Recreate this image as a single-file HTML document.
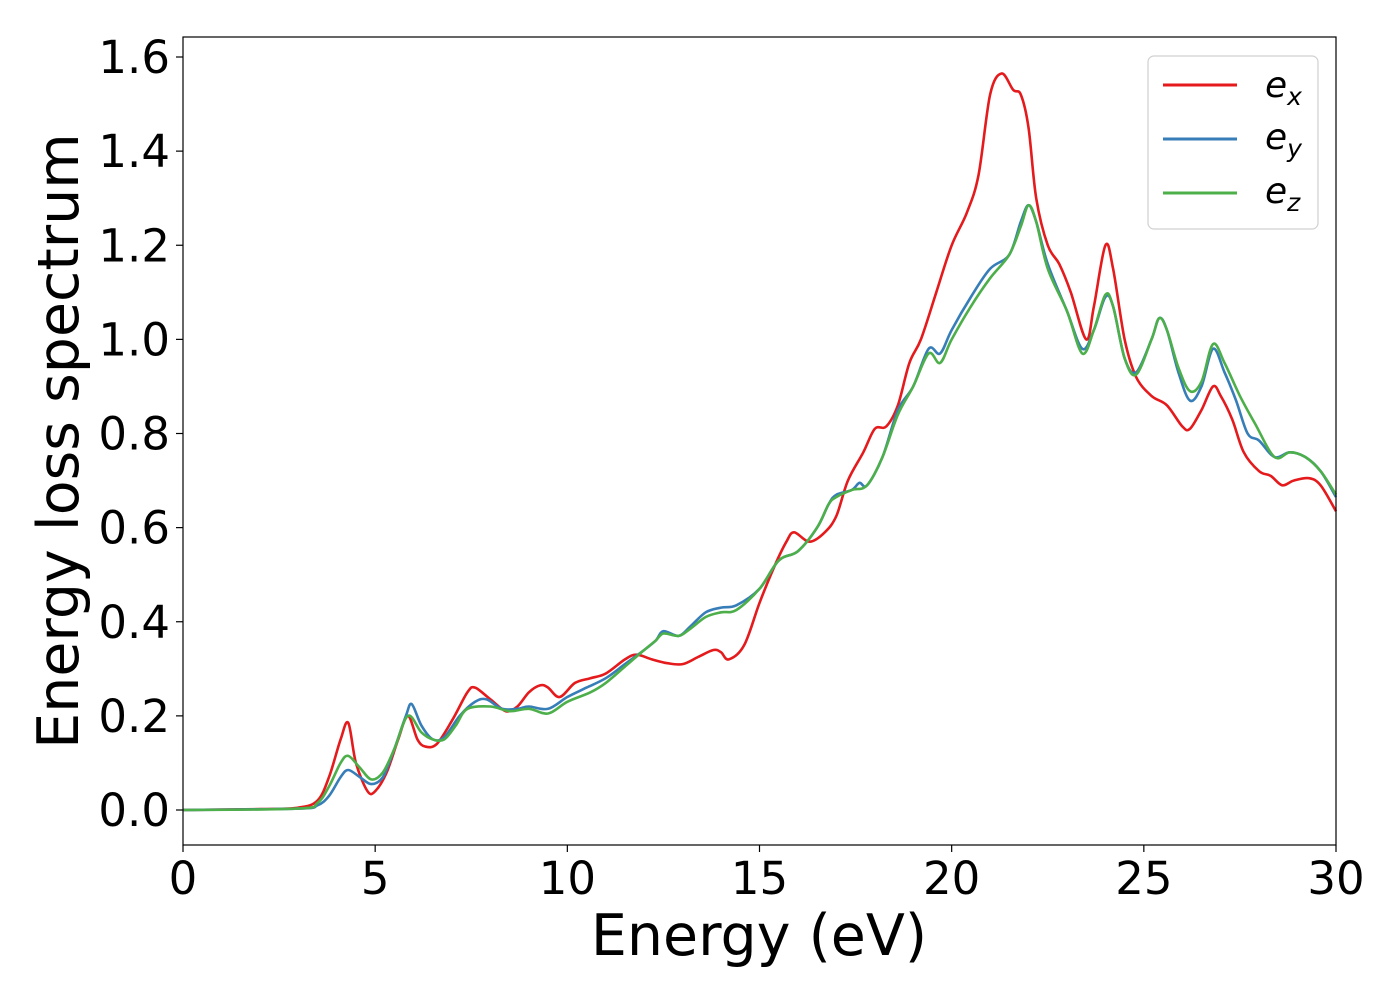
<!DOCTYPE html>
<html><head><meta charset="utf-8"><style>
body{margin:0;background:#fff}
text{font-family:"DejaVu Sans","Liberation Sans",sans-serif;fill:#000}
</style></head><body>
<svg id="chart" width="1400" height="1000" viewBox="0 0 1400 1000" xmlns="http://www.w3.org/2000/svg">
<rect width="1400" height="1000" fill="#fff"/>
<g id="series"></g>
<rect x="183" y="37" width="1153" height="808" fill="none" stroke="#000" stroke-width="1.2"/>
<g id="xticks"></g>
<g id="yticks"></g>
<text x="759" y="955" font-size="57" text-anchor="middle">Energy (eV)</text>
<text transform="translate(78,441) rotate(-90)" font-size="57" text-anchor="middle">Energy loss spectrum</text>
<g>
<rect x="1148" y="56" width="170" height="173" rx="6" fill="#fff" stroke="#ccc" stroke-width="1.2" opacity="0.9"/>
<line x1="1163" y1="85" x2="1237" y2="85" stroke="#e41a1c" stroke-width="3"/>
<text x="1265" y="97" font-size="36" font-style="italic">e<tspan font-size="25" dy="8">x</tspan></text>
<line x1="1163" y1="139" x2="1237" y2="139" stroke="#377eb8" stroke-width="3"/>
<text x="1265" y="149" font-size="36" font-style="italic">e<tspan font-size="25" dy="8">y</tspan></text>
<line x1="1163" y1="193" x2="1237" y2="193" stroke="#4daf4a" stroke-width="3"/>
<text x="1265" y="203" font-size="36" font-style="italic">e<tspan font-size="25" dy="8">z</tspan></text>
</g>
</svg>
<script>
const exX=[0,2,3,3.5,3.8,4.1,4.3,4.5,4.8,5.0,5.3,5.6,5.85,6.1,6.3,6.6,7.0,7.4,7.6,8.0,8.4,8.7,9.0,9.3,9.5,9.8,10.2,10.6,11,11.5,11.8,12.2,12.6,13,13.4,13.8,14.0,14.2,14.6,15,15.4,15.7,15.9,16.3,16.7,17,17.3,17.7,18,18.3,18.6,18.9,19.2,19.6,20,20.4,20.7,21,21.3,21.6,21.8,22,22.2,22.5,22.8,23.1,23.5,23.7,24,24.2,24.5,24.8,25.2,25.6,26,26.2,26.5,26.8,27.0,27.3,27.6,28,28.3,28.6,28.9,29.3,29.6,30];
const exY=[0,0.002,0.005,0.02,0.07,0.15,0.185,0.1,0.04,0.04,0.08,0.15,0.2,0.15,0.135,0.14,0.19,0.25,0.26,0.235,0.21,0.22,0.25,0.265,0.26,0.24,0.27,0.28,0.29,0.32,0.33,0.32,0.312,0.31,0.325,0.34,0.335,0.32,0.35,0.44,0.52,0.57,0.59,0.57,0.59,0.625,0.7,0.76,0.81,0.815,0.86,0.95,1.0,1.1,1.2,1.27,1.35,1.52,1.565,1.53,1.52,1.45,1.3,1.2,1.16,1.1,1.0,1.07,1.2,1.15,1.0,0.92,0.88,0.86,0.815,0.81,0.85,0.9,0.88,0.83,0.76,0.72,0.71,0.69,0.7,0.705,0.69,0.635];
const eyX=[0,3,3.5,3.8,4.1,4.3,4.6,4.9,5.2,5.5,5.8,5.95,6.2,6.5,6.8,7.2,7.6,7.9,8.3,8.7,9.0,9.5,10,10.5,11,11.5,12,12.3,12.5,12.9,13.2,13.6,14,14.4,15,15.5,16,16.5,16.8,17,17.4,17.6,17.8,18.2,18.6,19,19.4,19.7,20,20.5,21,21.5,21.8,22,22.2,22.5,23,23.4,23.7,24,24.2,24.5,24.8,25.2,25.4,25.6,25.9,26.2,26.5,26.8,27.1,27.4,27.7,28,28.4,28.8,29.2,29.6,30];
const eyY=[0,0.003,0.01,0.03,0.07,0.085,0.07,0.055,0.07,0.13,0.2,0.225,0.18,0.15,0.155,0.2,0.23,0.235,0.215,0.215,0.22,0.215,0.24,0.26,0.28,0.31,0.34,0.36,0.38,0.37,0.39,0.42,0.43,0.435,0.47,0.53,0.55,0.6,0.65,0.67,0.68,0.695,0.69,0.75,0.85,0.9,0.98,0.97,1.02,1.09,1.15,1.18,1.25,1.285,1.25,1.16,1.06,0.98,1.02,1.09,1.07,0.96,0.93,1.0,1.045,1.02,0.93,0.87,0.9,0.98,0.93,0.87,0.8,0.785,0.75,0.76,0.75,0.72,0.665];
const ezX=[0,3,3.5,3.8,4.1,4.3,4.6,4.9,5.2,5.5,5.85,6.2,6.5,6.8,7.1,7.4,8.0,8.5,9.0,9.5,10,10.6,11,11.5,12,12.3,12.5,12.9,13.2,13.6,14,14.4,15,15.5,16,16.5,16.8,17,17.4,17.8,18.2,18.6,19,19.4,19.7,20,20.5,21,21.5,21.8,22,22.2,22.5,23,23.4,23.7,24,24.2,24.5,24.8,25.2,25.4,25.6,25.9,26.2,26.5,26.8,27.1,27.5,27.9,28.4,28.8,29.2,29.6,30];
const ezY=[0,0.003,0.015,0.05,0.1,0.115,0.09,0.065,0.08,0.13,0.2,0.165,0.15,0.15,0.18,0.215,0.22,0.21,0.215,0.205,0.23,0.25,0.27,0.305,0.34,0.36,0.375,0.37,0.385,0.41,0.42,0.425,0.47,0.53,0.55,0.6,0.65,0.665,0.68,0.69,0.75,0.84,0.9,0.97,0.95,1.0,1.07,1.13,1.18,1.24,1.285,1.25,1.15,1.06,0.97,1.02,1.095,1.07,0.96,0.925,1.0,1.045,1.02,0.94,0.89,0.91,0.99,0.95,0.88,0.82,0.75,0.76,0.75,0.72,0.67];
const xTicks=[0,5,10,15,20,25,30];
const yTicks=[0.0,0.2,0.4,0.6,0.8,1.0,1.2,1.4,1.6];
const NS='http://www.w3.org/2000/svg';
const sx=v=>183+v*(1153/30);
const sy=v=>810-v*(753/1.6);
function pathFrom(X,Y){
  const p=X.map((x,i)=>[sx(x),sy(Y[i])]);
  let d='M'+p[0][0].toFixed(1)+','+p[0][1].toFixed(1);
  for(let i=0;i<p.length-1;i++){
    const p0=p[i-1]||p[i],p1=p[i],p2=p[i+1],p3=p[i+2]||p2;
    const c1=[p1[0]+(p2[0]-p0[0])/6,p1[1]+(p2[1]-p0[1])/6];
    const c2=[p2[0]-(p3[0]-p1[0])/6,p2[1]-(p3[1]-p1[1])/6];
    d+='C'+c1.map(v=>v.toFixed(1))+' '+c2.map(v=>v.toFixed(1))+' '+p2.map(v=>v.toFixed(1));
  }
  return d;
}
const g=document.getElementById('series');
[[exX,exY,'#e41a1c','ex'],[eyX,eyY,'#377eb8','ey'],[ezX,ezY,'#4daf4a','ez']].forEach(s=>{
  const el=document.createElementNS(NS,'path');
  el.setAttribute('d',pathFrom(s[0],s[1]));
  el.setAttribute('fill','none');el.setAttribute('stroke',s[2]);el.setAttribute('stroke-width','2.6');
  
  
  g.appendChild(el);
});
const xg=document.getElementById('xticks');
xTicks.forEach(t=>{
  const l=document.createElementNS(NS,'line');
  l.setAttribute('x1',sx(t));l.setAttribute('x2',sx(t));l.setAttribute('y1',845);l.setAttribute('y2',852);l.setAttribute('stroke','#000');l.setAttribute('stroke-width','1.2');
  
  
  xg.appendChild(l);
  const tx=document.createElementNS(NS,'text');
  tx.setAttribute('x',sx(t));tx.setAttribute('y',894);tx.setAttribute('font-size','45');tx.setAttribute('text-anchor','middle');tx.textContent=t;
  
  
  xg.appendChild(tx);
});
const yg=document.getElementById('yticks');
yTicks.forEach(t=>{
  const l=document.createElementNS(NS,'line');
  l.setAttribute('x1',176);l.setAttribute('x2',183);l.setAttribute('y1',sy(t));l.setAttribute('y2',sy(t));l.setAttribute('stroke','#000');l.setAttribute('stroke-width','1.2');
  
  
  yg.appendChild(l);
  const tx=document.createElementNS(NS,'text');
  tx.setAttribute('x',170);tx.setAttribute('y',sy(t)+16);tx.setAttribute('font-size','45');tx.setAttribute('text-anchor','end');tx.textContent=t.toFixed(1);
  
  
  yg.appendChild(tx);
});
</script>
</body></html>
